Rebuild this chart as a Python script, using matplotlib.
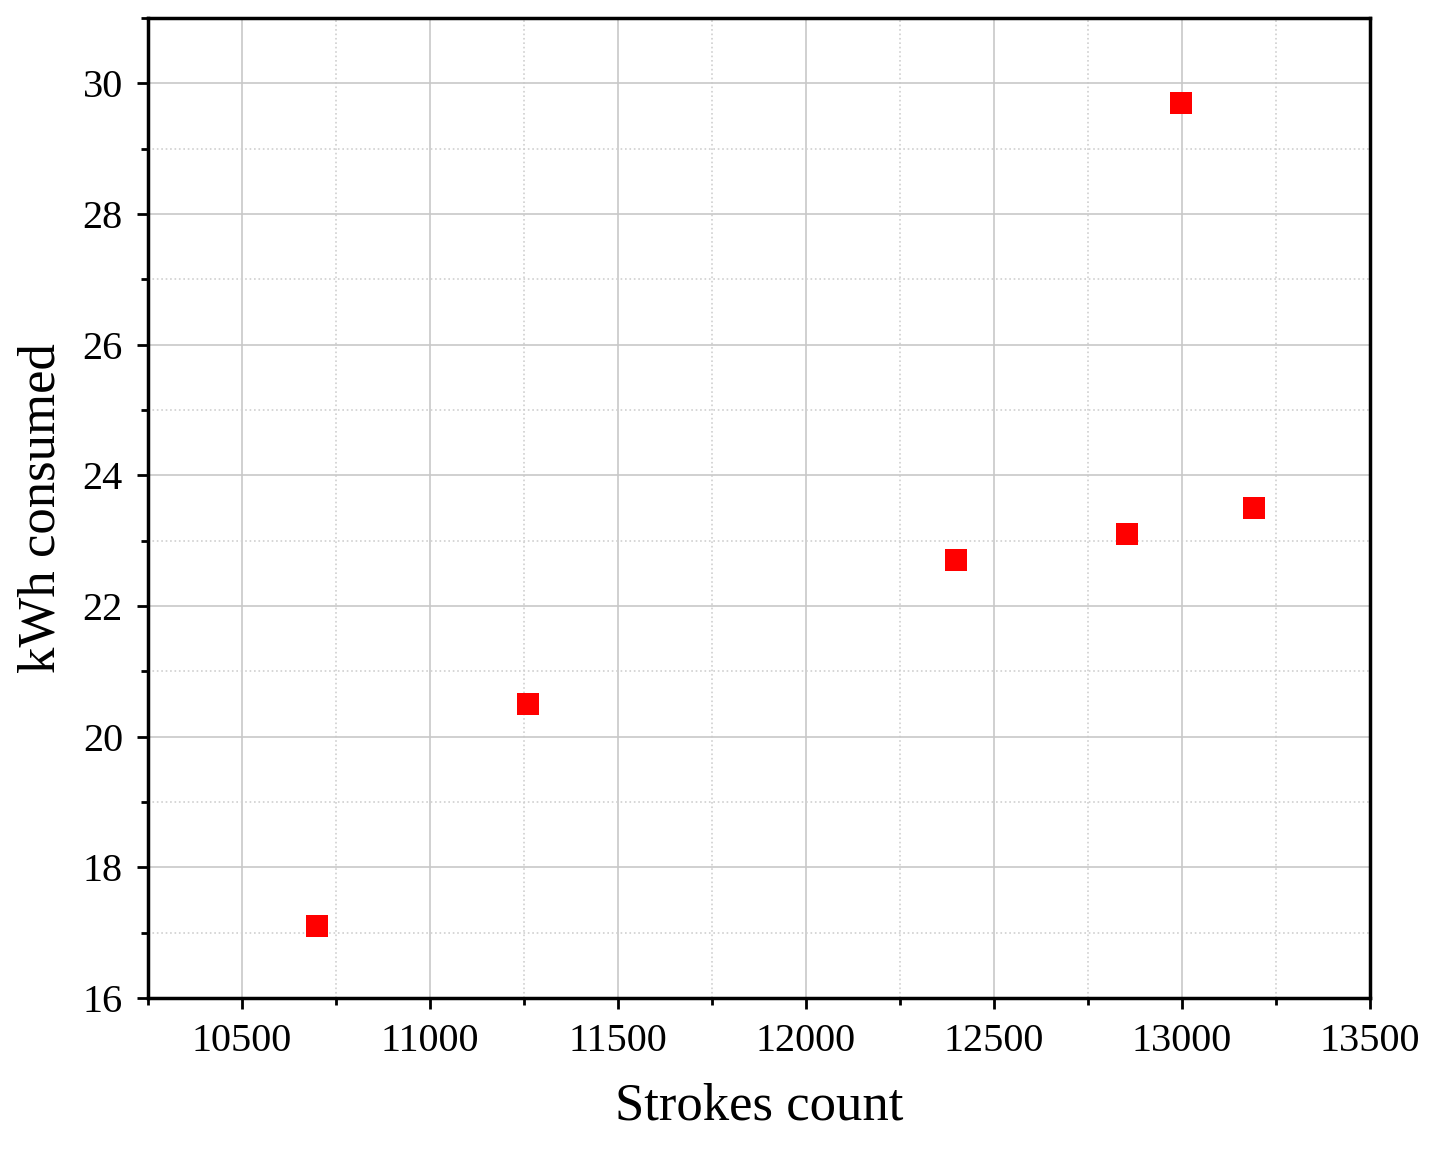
import matplotlib
matplotlib.use("Agg")
import matplotlib.pyplot as plt
from matplotlib.ticker import MultipleLocator

strokes = [10700, 11260, 12400, 12855, 12997, 13192]
kwh = [17.1, 20.5, 22.7, 23.1, 29.7, 23.5]

plt.rcParams['font.family'] = ['Liberation Serif', 'DejaVu Serif']
fig = plt.figure(figsize=(14.38, 11.5), dpi=100)
ax = fig.add_axes([148/1438, 1-998/1150, (1370-148)/1438, (998-18)/1150])
ax.scatter(strokes, kwh, marker='s', s=250, color='#ff0000', zorder=3, linewidths=0)
ax.set_xlim(10250, 13500)
ax.set_ylim(16, 31)
ax.xaxis.set_major_locator(MultipleLocator(500))
ax.xaxis.set_minor_locator(MultipleLocator(250))
ax.yaxis.set_major_locator(MultipleLocator(2))
ax.yaxis.set_minor_locator(MultipleLocator(1))
ax.grid(which='major', color='#c8c8c8', linewidth=1.2)
ax.grid(which='minor', color='#d0d0d0', linewidth=1.2, linestyle=':')
ax.tick_params(which='major', direction='out', length=8, width=2, labelsize=29, pad=10)
ax.tick_params(which='minor', direction='out', length=5, width=2)
for s in ax.spines.values():
    s.set_linewidth(2.5)
ax.set_xlabel('Strokes count', fontsize=38, labelpad=16)
ax.set_ylabel('kWh consumed', fontsize=38, labelpad=12)
fig.savefig('out.png', dpi=100)
